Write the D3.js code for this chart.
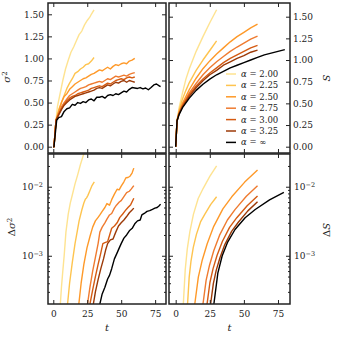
<!DOCTYPE html>
<html>
<head>
<meta charset="utf-8">
<script src="https://cdn.jsdelivr.net/npm/d3@7"></script>
<style>
  body { margin: 0; background: #fff; }
  svg text { font-family: "DejaVu Serif", serif; fill: #222; }
</style>
</head>
<body>
<script>
// series labels and colours (alpha values)
var alphaLabels = ["2.00", "2.25", "2.50", "2.75", "3.00", "3.25", "\u221e"];
var alphaColors = ["#fee391", "#fec44f", "#fe9929", "#ef7b30", "#d55b12", "#9c3a08", "#000000"];

// tick values
var tTicks = [0, 25, 50, 75];
var linTicks = [0, 0.25, 0.5, 0.75, 1.0, 1.25, 1.5];
var logMajor = [1e-3, 1e-2];
var logMajorExp = ["\u22123", "\u22122"];
var logMinor = [3e-4, 4e-4, 5e-4, 6e-4, 7e-4, 8e-4, 9e-4, 2e-3, 3e-3, 4e-3, 5e-3, 6e-3, 7e-3, 8e-3, 9e-3, 2e-2];

// sigma^2 (top left), [t, value]
var sig_200 = [[0,0],[0.5,0],[2,0.3],[3,0.45],[5,0.6],[7,0.75],[9,0.88],[11,0.98],[13,1.07],[15,1.13],[17,1.2],[19,1.27],[21,1.31],[23,1.38],[25,1.43],[27,1.47],[28,1.5],[30,1.55]];
var sig_225 = [[0,0],[0.5,0],[2,0.3],[4,0.42],[6,0.5],[8,0.58],[10,0.66],[12,0.72],[14,0.77],[16,0.83],[18,0.85],[20,0.88],[22,0.9],[24,0.93],[26,0.94],[28,0.97],[30,1.01]];
var sig_250 = [[0,0],[0.5,0],[2,0.3],[4,0.4],[6,0.5],[8,0.57],[10,0.6],[12,0.65],[14,0.68],[16,0.71],[18,0.73],[20,0.75],[22,0.77],[24,0.78],[26,0.8],[28,0.82],[30,0.83],[32,0.85],[34,0.87],[36,0.86],[38,0.88],[40,0.9],[42,0.88],[44,0.91],[46,0.93],[48,0.92],[50,0.94],[52,0.95],[54,0.94],[56,0.97],[58,0.98],[60,1.0]];
var sig_275 = [[0,0],[0.5,0],[2,0.3],[4,0.38],[6,0.45],[8,0.5],[10,0.54],[12,0.58],[14,0.6],[16,0.62],[18,0.64],[20,0.66],[22,0.67],[24,0.68],[26,0.7],[28,0.71],[30,0.72],[32,0.73],[34,0.74],[36,0.73],[38,0.75],[40,0.77],[42,0.76],[44,0.78],[46,0.8],[48,0.79],[50,0.8],[52,0.81],[54,0.8],[56,0.82],[58,0.83],[60,0.84]];
var sig_300 = [[0,0],[0.5,0],[2,0.3],[4,0.37],[6,0.43],[8,0.48],[10,0.52],[12,0.55],[14,0.57],[16,0.58],[18,0.6],[20,0.61],[22,0.62],[24,0.63],[26,0.64],[28,0.66],[30,0.67],[32,0.68],[34,0.69],[36,0.68],[38,0.7],[40,0.72],[42,0.71],[44,0.73],[46,0.75],[48,0.76],[50,0.77],[52,0.76],[54,0.78],[56,0.79],[58,0.78],[60,0.79]];
var sig_325 = [[0,0],[0.5,0],[2,0.3],[4,0.36],[6,0.42],[8,0.47],[10,0.5],[12,0.53],[14,0.55],[16,0.57],[18,0.58],[20,0.59],[22,0.6],[24,0.61],[26,0.62],[28,0.63],[30,0.64],[32,0.66],[34,0.67],[36,0.66],[38,0.68],[40,0.7],[42,0.69],[44,0.71],[46,0.73],[48,0.72],[50,0.74],[52,0.75],[54,0.73],[56,0.75],[58,0.74],[60,0.73]];
var sig_inf = [[0,0],[0.5,0],[2.5,0.3],[4,0.33],[6,0.34],[8,0.4],[10,0.43],[12,0.44],[14,0.48],[16,0.47],[18,0.5],[20,0.49],[22,0.51],[24,0.5],[26,0.53],[28,0.54],[30,0.52],[32,0.56],[34,0.56],[36,0.57],[38,0.55],[40,0.58],[42,0.59],[44,0.58],[46,0.6],[48,0.59],[50,0.61],[52,0.63],[54,0.62],[56,0.65],[58,0.67],[60,0.665],[62,0.66],[64,0.67],[66,0.655],[68,0.665],[70,0.645],[72,0.67],[74,0.7],[76,0.71],[78,0.69],[79,0.68]];

// S (top right)
var s_200 = [[0,0],[1,0.3],[2.5,0.45],[5,0.62],[7.5,0.78],[10,0.9],[15,1.1],[20,1.27],[25,1.43],[30,1.58]];
var s_225 = [[0,0],[1,0.3],[2.5,0.42],[5,0.55],[7.5,0.65],[10,0.74],[15,0.88],[20,1.0],[25,1.11],[30,1.22]];
var s_250 = [[0,0],[1,0.3],[2.5,0.4],[5,0.5],[10,0.66],[15,0.79],[20,0.9],[25,0.99],[30,1.07],[35,1.14],[40,1.21],[45,1.27],[50,1.32],[55,1.37],[60,1.415]];
var s_275 = [[0,0],[1,0.3],[2.5,0.39],[5,0.48],[10,0.62],[15,0.73],[20,0.83],[25,0.91],[30,0.98],[35,1.04],[40,1.1],[45,1.15],[50,1.195],[55,1.24],[60,1.277]];
var s_300 = [[0,0],[1,0.3],[2.5,0.38],[5,0.47],[10,0.6],[15,0.7],[20,0.78],[25,0.85],[30,0.91],[35,0.97],[40,1.02],[45,1.06],[50,1.1],[55,1.14],[60,1.17]];
var s_325 = [[0,0],[1,0.3],[2.5,0.38],[5,0.46],[10,0.58],[15,0.68],[20,0.76],[25,0.83],[30,0.88],[35,0.94],[40,0.98],[45,1.02],[50,1.05],[55,1.09],[60,1.115]];
var s_inf = [[0,0],[1,0.3],[2.5,0.37],[5,0.45],[10,0.56],[15,0.65],[20,0.72],[25,0.78],[30,0.83],[35,0.87],[40,0.91],[45,0.94],[50,0.97],[55,1.0],[60,1.03],[65,1.06],[70,1.08],[75,1.1],[80,1.12]];

// delta sigma^2 (bottom left)
var dsig_200 = [[4.5,1.0e-4],[5.2,2.0e-4],[6,3.5e-4],[7,6e-4],[8,1.0e-3],[9.3,2.2e-3],[11,4.0e-3],[12.5,5.8e-3],[14,7.6e-3],[16,0.011],[18,0.015],[20,0.021],[22.4,0.0298],[25,0.038],[30,0.05]];
var dsig_225 = [[10,1.5e-4],[10.5,2e-4],[12,4e-4],[14,8e-4],[16,1.5e-3],[17.6,2.24e-3],[19,3.2e-3],[21,4.6e-3],[22.5,5.8e-3],[23.6,6.6e-3],[24.5,6.9e-3],[25.5,7.5e-3],[27,8.8e-3],[28.5,0.0104],[30.2,0.0118]];
var dsig_250 = [[18,1.5e-4],[18.8,2e-4],[20.5,4e-4],[22.5,7.5e-4],[24.8,1.3e-3],[27,1.9e-3],[29,2.6e-3],[31,3.2e-3],[33,3.6e-3],[34.3,3.9e-3],[36,4.4e-3],[38,5.0e-3],[39.5,5.7e-3],[41.4,5.4e-3],[43,6.5e-3],[45,7.8e-3],[47,9.2e-3],[48.5,9.0e-3],[50,0.0102],[52,0.0118],[53.5,0.0135],[55,0.0136],[56.5,0.0142],[58,0.0158],[59.3,0.0186]];
var dsig_275 = [[24.5,1.5e-4],[25.2,2e-4],[27,3.5e-4],[29,6e-4],[31,9.5e-4],[33,1.5e-3],[34.3,2.2e-3],[36,2.6e-3],[38,3.0e-3],[39.5,3.4e-3],[41.4,3.9e-3],[43,4.1e-3],[45,4.9e-3],[46.5,5.4e-3],[48.6,6.0e-3],[50,6.3e-3],[52,7.2e-3],[54,8.2e-3],[56,8.6e-3],[57.5,9.3e-3],[59.3,0.0104]];
var dsig_300 = [[26,1.4e-4],[27,2e-4],[29,3.2e-4],[31,5e-4],[33,7.5e-4],[35,1.1e-3],[36.5,1.5e-3],[38,1.55e-3],[40,1.6e-3],[41.5,2.0e-3],[43,2.5e-3],[45,2.7e-3],[47,3.0e-3],[49,3.6e-3],[51,4.0e-3],[53,4.5e-3],[55,5.0e-3],[57,5.5e-3],[59.3,6.8e-3]];
var dsig_325 = [[28.5,1.4e-4],[29.5,2e-4],[31,3e-4],[33,4.5e-4],[35,6.5e-4],[37,9e-4],[38.5,1.2e-3],[40,1.5e-3],[42,1.7e-3],[44,1.75e-3],[46,2.2e-3],[48,2.7e-3],[50,3.0e-3],[52,3.3e-3],[54,3.7e-3],[56,4.2e-3],[58,4.6e-3],[59.3,4.9e-3]];
var dsig_inf = [[33.5,1.4e-4],[34.3,2e-4],[36,2.8e-4],[38,3.5e-4],[40,4.6e-4],[41.4,5.2e-4],[43,6.5e-4],[45,9e-4],[47,1.1e-3],[48.6,1.3e-3],[50,1.5e-3],[52,1.8e-3],[54,2.0e-3],[56,2.3e-3],[58.1,2.5e-3],[60,2.9e-3],[62,3.2e-3],[64,3.3e-3],[65.2,3.9e-3],[67,4.1e-3],[69,4.4e-3],[71,4.5e-3],[73,4.7e-3],[74.8,4.9e-3],[76.5,5.0e-3],[78,5.3e-3],[79,5.6e-3]];

// delta S (bottom right)
var ds_200 = [[5.2,1.41e-4],[5.6,2.0e-4],[7,6.3e-4],[8.5,1.26e-3],[10.4,2.24e-3],[13,3.98e-3],[16.5,6.76e-3],[20,9.33e-3],[25,0.0141],[30,0.02]];
var ds_225 = [[8.3,1.4e-4],[8.7,2e-4],[9.9,4.9e-4],[11.2,8.3e-4],[12.9,1.32e-3],[15.2,2.04e-3],[18.2,3.09e-3],[21.3,3.98e-3],[25.6,5.5e-3],[30,7.16e-3]];
var ds_250 = [[13.5,1.4e-4],[14,2e-4],[16.6,4.9e-4],[19.5,8.7e-4],[23.1,1.49e-3],[27.9,2.67e-3],[34.6,4.78e-3],[41.1,7.14e-3],[50.6,0.01167],[60,0.01746]];
var ds_275 = [[19.5,1.4e-4],[20,2e-4],[22.3,4.4e-4],[24.8,7.3e-4],[27.9,1.18e-3],[32.1,1.97e-3],[37.9,3.3e-3],[43.6,4.7e-3],[51.8,7.26e-3],[60,0.01035]];
var ds_300 = [[22.5,1.4e-4],[23,2e-4],[25.1,4.1e-4],[27.4,6.5e-4],[30.3,1.01e-3],[34.2,1.61e-3],[39.5,2.58e-3],[44.8,3.56e-3],[52.4,5.3e-3],[60,7.33e-3]];
var ds_325 = [[25.1,1.4e-4],[25.6,2e-4],[27.6,3.95e-4],[29.7,6.15e-4],[32.4,9.3e-4],[36,1.45e-3],[41,2.25e-3],[45.9,3.06e-3],[52.9,4.47e-3],[60,6.07e-3]];
var ds_inf = [[27.5,1.4e-4],[28,2e-4],[30.9,5.6e-4],[34.1,1.0e-3],[38.1,1.58e-3],[43.5,2.4e-3],[50.9,3.55e-3],[58.3,4.68e-3],[68.8,6.46e-3],[79.3,8.3e-3]];

var width = 338, height = 338;

var svg = d3.select("body").append("svg")
    .attr("width", width)
    .attr("height", height)
    .style("background-color", "white");

var panels = [
  {id: "tl", x0: 48, x1: 166, y0: 3, y1: 153, xd: [-3.9, 83], yd: [-0.0714, 1.628], log: false, side: "left", xlab: false,
   series: [sig_200, sig_225, sig_250, sig_275, sig_300, sig_325, sig_inf]},
  {id: "tr", x0: 169, x1: 290, y0: 3, y1: 153, xd: [-4.9, 83.8], yd: [-0.0727, 1.658], log: false, side: "right", xlab: false,
   series: [s_200, s_225, s_250, s_275, s_300, s_325, s_inf]},
  {id: "bl", x0: 48, x1: 166, y0: 154, y1: 304, xd: [-3.9, 83], yd: [2.0e-4, 0.0298], log: true, side: "left", xlab: true,
   series: [dsig_200, dsig_225, dsig_250, dsig_275, dsig_300, dsig_325, dsig_inf]},
  {id: "br", x0: 169, x1: 290, y0: 154, y1: 304, xd: [-4.9, 83.8], yd: [2.0e-4, 0.0298], log: true, side: "right", xlab: true,
   series: [ds_200, ds_225, ds_250, ds_275, ds_300, ds_325, ds_inf]}
];

function noLabel() { return ""; }

panels.forEach(function(p) {
  var x = d3.scaleLinear().domain(p.xd).range([p.x0, p.x1]);
  var y = (p.log ? d3.scaleLog() : d3.scaleLinear()).domain(p.yd).range([p.y1, p.y0]);

  svg.append("clipPath").attr("id", "clip-" + p.id)
    .append("rect")
    .attr("x", p.x0).attr("y", p.y0)
    .attr("width", p.x1 - p.x0).attr("height", p.y1 - p.y0);

  var line = d3.line()
    .x(function(d) { return x(d[0]); })
    .y(function(d) { return y(d[1]); });

  // data lines, lightest first so the black one sits on top
  svg.append("g").attr("clip-path", "url(#clip-" + p.id + ")")
    .selectAll("path")
    .data(p.series)
    .enter().append("path")
    .attr("d", line)
    .attr("fill", "none")
    .attr("stroke", function(d, i) { return alphaColors[i]; })
    .attr("stroke-width", 1.4)
    .attr("stroke-linejoin", "round");

  // x ticks, inward on bottom and top
  svg.append("g").attr("transform", "translate(0," + p.y1 + ")")
    .call(d3.axisBottom(x).tickValues(tTicks).tickSize(-4).tickPadding(7)
      .tickFormat(p.xlab ? d3.format("d") : noLabel));
  svg.append("g").attr("transform", "translate(0," + p.y0 + ")")
    .call(d3.axisTop(x).tickValues(tTicks).tickSize(-4).tickFormat(noLabel));

  // y ticks, inward on left and right
  var yTicks = p.log ? logMajor : linTicks;
  var labelFmt = p.log ? noLabel : d3.format(".2f");
  svg.append("g").attr("transform", "translate(" + p.x0 + ",0)")
    .call(d3.axisLeft(y).tickValues(yTicks).tickSize(-4).tickPadding(4)
      .tickFormat(p.side == "left" ? labelFmt : noLabel));
  svg.append("g").attr("transform", "translate(" + p.x1 + ",0)")
    .call(d3.axisRight(y).tickValues(yTicks).tickSize(-4).tickPadding(3)
      .tickFormat(p.side == "right" ? labelFmt : noLabel));

  if (p.log) {
    svg.append("g").attr("transform", "translate(" + p.x0 + ",0)")
      .call(d3.axisLeft(y).tickValues(logMinor).tickSize(-2).tickFormat(noLabel));
    svg.append("g").attr("transform", "translate(" + p.x1 + ",0)")
      .call(d3.axisRight(y).tickValues(logMinor).tickSize(-2).tickFormat(noLabel));
    // labels like 10^-2
    logMajor.forEach(function(v, k) {
      var t = svg.append("text")
        .attr("x", p.side == "left" ? p.x0 - 5 : p.x1 + 4)
        .attr("y", y(v) + 3.5)
        .attr("text-anchor", p.side == "left" ? "end" : "start")
        .attr("font-size", "9px");
      t.append("tspan").text("10");
      t.append("tspan").attr("dy", "-0.45em").attr("font-size", "6.5px").text(logMajorExp[k]);
    });
  }

  svg.selectAll(".domain").remove();
  svg.selectAll(".tick line").attr("stroke", "#222").attr("stroke-width", 1);
  svg.selectAll(".tick text").attr("font-size", "9px").attr("fill", "#222");

  // frame
  svg.append("rect")
    .attr("x", p.x0).attr("y", p.y0)
    .attr("width", p.x1 - p.x0).attr("height", p.y1 - p.y0)
    .attr("fill", "none")
    .attr("stroke", "#222")
    .attr("stroke-width", 1.5);

  if (p.xlab) {
    svg.append("text")
      .attr("x", (p.x0 + p.x1) / 2).attr("y", 331)
      .attr("text-anchor", "middle")
      .attr("font-size", "10px")
      .attr("font-style", "italic")
      .text("t");
  }
});

// axis labels
function yLabel(xp, yp, delta, sym, sq) {
  var t = svg.append("text")
    .attr("transform", "translate(" + xp + "," + yp + ") rotate(-90)")
    .attr("text-anchor", "middle")
    .attr("font-size", "10px");
  if (delta) t.append("tspan").text("\u0394");
  t.append("tspan").attr("font-style", "italic").text(sym);
  if (sq) t.append("tspan").attr("dy", "-0.45em").attr("font-size", "7px").text("2");
}
yLabel(10, 77, false, "\u03c3", true);
yLabel(15, 227, true, "\u03c3", true);
yLabel(330, 78, false, "S", false);
yLabel(330, 230, true, "S", false);

// legend
var legend = svg.append("g").attr("class", "legend");
alphaLabels.forEach(function(a, i) {
  var ly = 74 + i * 11.4;
  legend.append("line")
    .attr("x1", 226).attr("x2", 236)
    .attr("y1", ly).attr("y2", ly)
    .attr("stroke", alphaColors[i])
    .attr("stroke-width", 1.5);
  var t = legend.append("text")
    .attr("x", 241).attr("y", ly + 3)
    .attr("font-size", "8.5px");
  t.append("tspan").attr("font-style", "italic").text("\u03b1");
  t.append("tspan").text(" = " + a);
});
</script>
</body>
</html>
